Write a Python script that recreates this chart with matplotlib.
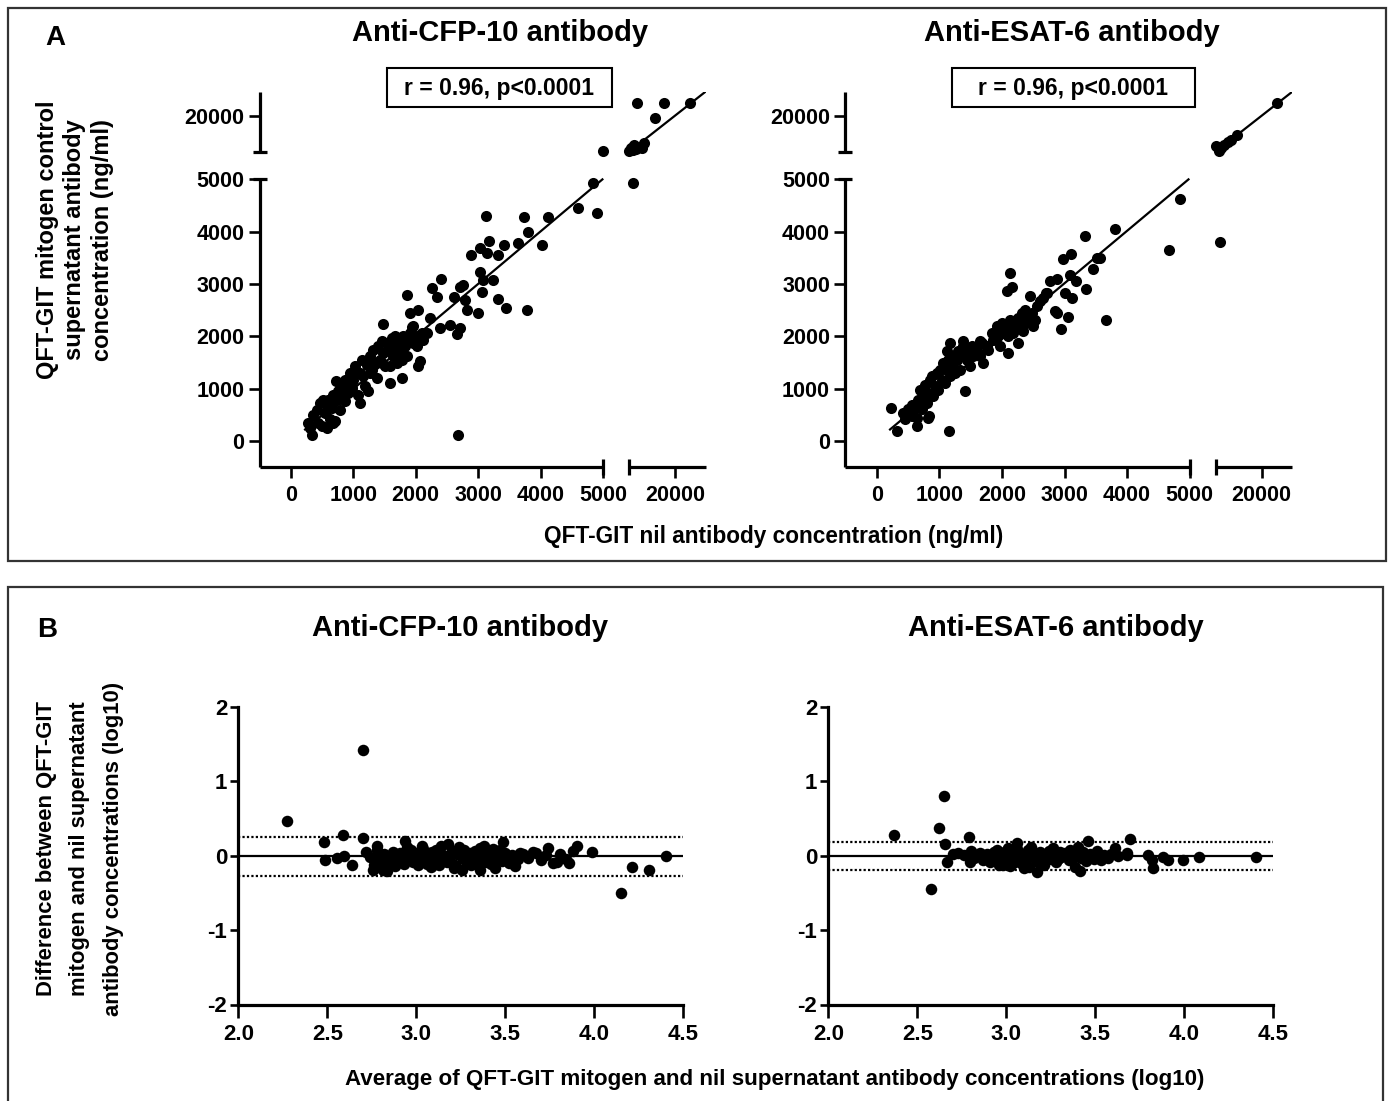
import numpy as np
import matplotlib
matplotlib.use("Agg")
import matplotlib.pyplot as plt
from matplotlib.patches import Rectangle

plt.rcParams['font.family'] = ['Liberation Sans', 'DejaVu Sans']
plt.rcParams['font.weight'] = 'bold'

W, H = 1390, 1101

# ---------------- data: panel A (ng/ml) ----------------
cfp_nil = [363, 416, 469, 496, 549, 576, 603, 629, 656, 683, 709, 736, 763, 789, 816, 843, 869, 896,
           923, 949, 976, 1003, 1029, 1056, 1083, 1109, 1136, 1163, 1189, 1216, 1243, 1269, 1296, 1323,
           1349, 1376, 1403, 1429, 1456, 1483, 1509, 1536, 1563, 1589, 1616, 1643, 1669, 1696, 1723,
           1749, 1776, 1803, 1829, 1856, 1909, 1963, 2016, 2043, 2096, 2123, 2069,
           309, 443, 576, 683, 523, 725, 869, 1109, 1269, 1456, 1589, 1669, 1776, 1856, 1963, 2016, 2176,
           2683, 336, 283, 1483, 1856, 2256, 2400, 2336, 2043, 1909, 1936, 2229, 2389, 2549, 2709, 2656,
           2709, 2613, 2789, 2816, 3003, 2880, 3029, 3083, 3056, 3029, 3179, 3147, 3323, 3413, 3243, 3323,
           3445, 3125, 3739, 3792, 3643, 4016, 4112, 3787, 4592, 4843, 4896, 2763,
           4990, 5100, 5500, 6100, 6600, 7200, 6300, 9870, 9110, 7700, 13440, 16360, 25020]
cfp_mit = [508, 603, 730, 286, 540, 667, 794, 413, 635, 889, 381, 794, 952, 603, 1048, 857, 762, 1111,
           921, 1302, 1016, 1175, 1429, 1302, 889, 730, 1556, 1238, 1048, 1460, 952, 1619, 1365, 1746,
           1492, 1206, 1810, 1556, 1905, 1683, 1429, 1873, 1746, 1111, 1968, 1619, 1810, 1492, 1937,
           1683, 1206, 2000, 1810, 1619, 2063, 1873, 2000, 1429, 2063, 1937, 1524,
           254, 349, 254, 349, 794, 1143, 1175, 1302, 1302, 1492, 1429, 2000, 1556, 1937, 2190, 1810, 2063,
           108, 108, 349, 2235, 2794, 2921, 3092, 2749, 2508, 2444, 2178, 2349, 2159, 2222, 2159, 2051,
           2952, 2762, 2698, 2508, 2444, 3556, 3238, 3079, 2857, 3683, 3829, 3587, 3556, 3746, 3079, 2717,
           2552, 4298, 4286, 4000, 3778, 3746, 4273, 2508, 4444, 4921, 4349, 2984,
           5150, 5200, 6400, 5800, 7700, 6000, 4921, 8470, 6390, 25140, 19170, 25140, 25140]

esat_nil = [452, 505, 559, 612, 638, 665, 691, 718, 745, 771, 798, 824, 824, 851, 878, 904, 931, 957,
            984, 1011, 1037, 1064, 1090, 1117, 1144, 1170, 1197, 1223, 1250, 1277, 1303, 1330, 1356, 1383,
            1436, 1463, 1489, 1516, 1543, 1596, 1649, 1676, 1702, 1755, 1782, 1835, 1862, 1915, 1941,
            1968, 1995, 2021, 2074, 2101, 2128, 2154, 2181, 2234, 2261, 2314, 2340, 2367, 2394, 2473,
            2553, 2606, 2660, 2713, 2527,
            223, 330, 426, 559, 649, 840, 1160, 1410, 1170, 1383, 1128, 1649, 2074, 2154, 2128, 2447, 2500,
            2330, 2261, 2101, 2766, 2883, 2697, 2846, 2883, 2936, 3048, 3005, 3112, 3085, 3191, 2979, 3096,
            3351, 3447, 3511, 3564, 3335, 3803, 3670, 4670, 4851,
            6413, 5050, 6090, 6630, 7720, 9020, 9890, 12070, 25110]
esat_mit = [413, 604, 476, 635, 445, 794, 985, 604, 858, 1080, 731, 921, 445, 1175, 1239, 858, 1048, 1302,
            985, 1366, 1175, 1493, 1112, 1366, 1556, 1239, 1429, 1620, 1302, 1556, 1715, 1366, 1620, 1811,
            1556, 1715, 1429, 1811, 1620, 1747, 1620, 1874, 1493, 1811, 1747, 2065, 1938, 2192, 2001,
            1811, 2255, 2065, 2192, 2001, 2319, 2160, 2065, 2192, 2351, 2446, 2192, 2509, 2319, 2446,
            2573, 2668, 2732, 2827, 2319,
            635, 191, 540, 699, 286, 476, 191, 953, 1874, 1906, 1715, 1906, 2859, 2941, 3208, 2764, 2204,
            2096, 1874, 1684, 3049, 3094, 2827, 2478, 2446, 2141, 2370, 2827, 2732, 3177, 3049, 3475, 3577,
            2903, 3284, 3494, 3494, 3920, 4047, 2306, 3653, 4619,
            3799, 7360, 5420, 6390, 7780, 9170, 9860, 11940, 25140]

# linear fits (intercept, slope, first x)
cfp_fit = (-8, 1.004, 229)
esat_fit = (9, 1.002, 213)

# ---------------- data: panel B (log10, Bland-Altman) ----------------
cfp_avg = [2.275, 2.702, 2.586, 2.483, 2.487, 2.556, 2.594, 2.637, 2.702, 4.148, 4.213, 4.307, 4.401,
           3.985, 3.901, 3.882, 3.858, 3.807, 3.770, 3.742, 3.657, 3.582, 3.554, 3.489, 2.936, 2.777,
           2.758, 2.815, 2.833, 3.255, 3.358,
           2.72, 2.74, 2.76, 2.78, 2.79, 2.80, 2.82, 2.84, 2.85, 2.87, 2.88, 2.90, 2.91, 2.93, 2.95, 2.96,
           2.98, 2.99, 3.01, 3.02, 3.04, 3.05, 3.07, 3.08, 3.10, 3.11, 3.12, 3.14, 3.15, 3.16, 3.18, 3.19,
           3.20, 3.22, 3.23, 3.24, 3.26, 3.27, 3.29, 3.30, 3.32, 3.33, 3.35, 3.36, 3.37, 3.39, 3.40, 3.42,
           3.43, 3.45, 3.46, 3.48, 3.50, 3.52, 3.54, 3.57, 3.60, 3.63, 3.67, 3.70, 3.73, 3.79, 3.84, 3.03,
           2.97, 3.13, 3.21, 3.38, 3.44,
           2.81, 2.86, 2.92, 3.00, 3.06, 3.09, 3.17, 3.25, 3.31, 3.41, 3.47, 3.53]
cfp_diff = [0.469, 1.421, 0.273, 0.179, -0.054, -0.031, -0.009, -0.121, 0.237, -0.50, -0.156, -0.188, 0.0,
            0.045, 0.125, 0.058, -0.098, 0.022, -0.098, 0.103, 0.049, 0.036, -0.143, 0.179, 0.192, 0.125,
            -0.188, -0.188, -0.21, -0.188, -0.188,
            0.05, -0.02, -0.12, 0.08, -0.05, -0.15, 0.02, -0.10, -0.03, 0.05, -0.14, -0.06, 0.03, -0.11, 0.12,
            -0.02, -0.08, 0.04, -0.13, 0.00, 0.09, -0.06, 0.03, -0.15, -0.04, 0.07, -0.10, 0.13, 0.01, -0.07,
            0.15, -0.02, 0.06, -0.12, 0.02, 0.12, -0.05, 0.08, -0.09, 0.03, -0.03, 0.06, -0.13, 0.10, -0.01,
            -0.08, 0.05, -0.11, 0.09, -0.04, 0.02, -0.07, 0.04, -0.10, 0.01, -0.05, 0.02, -0.03, 0.04, -0.06,
            0.01, -0.08, -0.04, 0.13, 0.07, -0.13, -0.16, 0.13, -0.16,
            -0.09, 0.00, -0.04, 0.02, -0.11, 0.05, -0.09, 0.03, -0.12, -0.06, 0.07, -0.02]
cfp_bias, cfp_loa = -0.01, (-0.277, 0.255)

esat_avg = [2.371, 2.652, 2.624, 2.655, 2.669, 2.575, 2.790, 2.796, 3.058, 3.461, 3.414, 3.386, 3.695,
            3.610, 3.676, 3.794, 3.826, 3.816, 3.882, 3.910, 3.994, 4.082, 4.401, 3.170,
            2.70, 2.73, 2.76, 2.80, 2.82, 2.85, 2.87, 2.89, 2.91, 2.93, 2.94, 2.96, 2.97, 2.99, 3.00, 3.02,
            3.03, 3.05, 3.06, 3.08, 3.09, 3.11, 3.12, 3.13, 3.15, 3.16, 3.18, 3.19, 3.21, 3.22, 3.24, 3.25,
            3.27, 3.28, 3.30, 3.31, 3.33, 3.35, 3.36, 3.38, 3.40, 3.42, 3.43, 3.45, 3.47, 3.49, 3.51, 3.53,
            3.55, 3.57, 3.59, 3.63, 3.68, 2.95, 3.01, 3.14, 3.26, 3.10, 3.04, 2.98,
            2.92, 3.07, 3.20, 3.29, 3.37, 3.44, 3.52]
esat_diff = [0.279, 0.796, 0.369, 0.153, -0.09, -0.449, 0.247, -0.09, 0.175, 0.198, -0.202, -0.148, 0.220,
             0.108, 0.009, 0.009, -0.171, -0.058, -0.013, -0.058, -0.058, -0.022, -0.013, -0.216,
             0.02, 0.04, 0.01, 0.06, -0.03, 0.04, -0.06, 0.02, -0.09, 0.05, -0.02, -0.12, 0.03, -0.07, 0.06,
             -0.14, 0.01, -0.04, 0.09, -0.10, 0.02, -0.06, 0.07, -0.15, -0.02, 0.04, -0.09, 0.05, -0.12, 0.00,
             0.06, -0.05, 0.03, -0.08, 0.05, -0.02, 0.04, -0.06, 0.08, 0.01, 0.12, -0.03, 0.05, -0.07, 0.02,
             -0.04, 0.06, -0.06, 0.01, -0.03, 0.02, -0.01, 0.03, 0.08, 0.10, 0.11, 0.10, -0.17, -0.10, -0.13,
             -0.05, -0.03, -0.02, -0.04, -0.05, 0.00, -0.02]
esat_bias, esat_loa = 0.0, (-0.193, 0.189)

titles = ["Anti-CFP-10 antibody", "Anti-ESAT-6 antibody"]
stat_text = "r = 0.96, p<0.0001"
a_xticks = [0, 1000, 2000, 3000, 4000, 5000, 20000]
a_yticks = [0, 1000, 2000, 3000, 4000, 5000, 20000]
b_xticks = [2.0, 2.5, 3.0, 3.5, 4.0, 4.5]
b_yticks = [-2, -1, 0, 1, 2]

BRK, TOP = 5000, 30000


def broken(gap, k):
    def fwd(v):
        v = np.asarray(v, float)
        return np.where(v <= BRK, v, BRK + gap + (v - BRK) * k)

    def inv(t):
        t = np.asarray(t, float)
        return np.where(t <= BRK, t, np.where(t <= BRK + gap, BRK, BRK + (t - BRK - gap) / k))
    return fwd, inv


def add_ax(fig, l, r, t, b):
    return fig.add_axes([l / W, 1 - b / H, (r - l) / W, (b - t) / H])


fig = plt.figure(figsize=(W / 100, H / 100), dpi=100)

# frames
for (x0, y0, x1, y1) in [(8, 8, 1386, 561), (8, 587, 1383, 1120)]:
    fig.add_artist(Rectangle((x0 / W, 1 - y1 / H), (x1 - x0) / W, (y1 - y0) / H,
                             transform=fig.transFigure, fill=False, lw=1.6, ec='#333333'))

SP = 2.3
# ---------------- panel A ----------------
a_boxes = [(259.5, 705.7), (845.4, 1292.4)]
a_data = [(cfp_nil, cfp_mit, cfp_fit), (esat_nil, esat_mit, esat_fit)]
for (l, r), (xs, ys, fit) in zip(a_boxes, a_data):
    ax = add_ax(fig, l, r, 91.8, 467.3)
    ax.set_xscale('function', functions=broken(415, 0.049))
    ax.set_yscale('function', functions=broken(527, 0.0458))
    ax.set_xlim(-500, TOP)
    ax.set_ylim(-500, TOP)
    for s in ['top', 'right']:
        ax.spines[s].set_visible(False)
    for s in ['left', 'bottom']:
        ax.spines[s].set_linewidth(SP)
        ax.spines[s].set_capstyle('butt')
    ax.spines['bottom'].set_bounds(-500, BRK)
    ax.spines['left'].set_bounds(-500, BRK)
    # upper segments of the broken axes
    ax.plot([BRK + 1, TOP], [0, 0], color='k', lw=SP, transform=ax.get_xaxis_transform(),
            clip_on=False, solid_capstyle='butt')
    ax.plot([0, 0], [BRK + 1, TOP], color='k', lw=SP, transform=ax.get_yaxis_transform(),
            clip_on=False, solid_capstyle='butt')
    # break marks
    ax.plot([BRK, BRK + 1], [0, 0], ls='none', marker='|', ms=11, mew=SP, color='k',
            transform=ax.get_xaxis_transform(), clip_on=False)
    ax.plot([0, 0], [BRK, BRK + 1], ls='none', marker='_', ms=10, mew=SP, color='k',
            transform=ax.get_yaxis_transform(), clip_on=False)
    ax.set_xticks(a_xticks)
    ax.set_xticklabels([str(v) for v in a_xticks])
    ax.set_yticks(a_yticks)
    ax.set_yticklabels([str(v) for v in a_yticks])
    ax.tick_params(axis='both', width=1.9, length=8, labelsize=15.5, color='k')
    ax.tick_params(axis='x', pad=5)
    ax.tick_params(axis='y', pad=3)
    for lab in ax.get_xticklabels() + ax.get_yticklabels():
        lab.set_fontweight('bold')
    a0, b0, x0 = fit
    xm = [x0, (BRK - a0) / b0 - 1]
    ax.plot(xm, [a0 + b0 * v for v in xm], color='k', lw=1.6, zorder=2)
    xu = [BRK + 1, (TOP - a0) / b0]
    ax.plot(xu, [a0 + b0 * v for v in xu], color='k', lw=1.6, zorder=2)
    ax.scatter(xs, ys, s=8 ** 2, color='k', zorder=3, linewidths=0, clip_on=False)

# titles, stats boxes
for cx, t in zip([500, 1072], titles):
    fig.text(cx / W, 1 - 33 / H, t, ha='center', va='center', fontsize=21, fontweight='bold')
for (x0, x1) in [(387, 612), (952, 1195)]:
    fig.add_artist(Rectangle((x0 / W, 1 - 107 / H), (x1 - x0) / W, 39 / H,
                             transform=fig.transFigure, fill=False, lw=1.5, ec='k'))
    fig.text((x0 + x1) / 2 / W, 1 - 88 / H, stat_text, ha='center', va='center',
             fontsize=16.5, fontweight='bold')

fig.text(55 / W, 1 - 38 / H, "A", ha='center', va='center', fontsize=20, fontweight='bold')
fig.text(75 / W, 1 - 240 / H,
         "QFT-GIT mitogen control\nsupernatant antibody\nconcentration (ng/ml)",
         rotation=90, ha='center', va='center', ma='center', fontsize=17,
         fontweight='bold', linespacing=1.25)
fig.text(774 / W, 1 - 536 / H, "QFT-GIT nil antibody concentration (ng/ml)",
         ha='center', va='center', fontsize=16.3, fontweight='bold')

# ---------------- panel B ----------------
b_boxes = [(238.3, 683.3), (828.3, 1273.3)]
b_data = [(cfp_avg, cfp_diff, cfp_bias, cfp_loa), (esat_avg, esat_diff, esat_bias, esat_loa)]
for (l, r), (xs, ys, bias, loa) in zip(b_boxes, b_data):
    ax = add_ax(fig, l, r, 706.7, 1004.5)
    ax.set_xlim(2.0, 4.5)
    ax.set_ylim(-2, 2)
    for s in ['top', 'right']:
        ax.spines[s].set_visible(False)
    for s in ['left', 'bottom']:
        ax.spines[s].set_linewidth(SP)
    ax.set_xticks(b_xticks)
    ax.set_xticklabels([f"{v:.1f}" for v in b_xticks])
    ax.set_yticks(b_yticks)
    ax.set_yticklabels([str(v) for v in b_yticks])
    ax.tick_params(axis='x', width=1.9, length=9, labelsize=16, pad=5)
    ax.tick_params(axis='y', width=1.9, length=6, labelsize=16, pad=2)
    for lab in ax.get_xticklabels() + ax.get_yticklabels():
        lab.set_fontweight('bold')
    ax.axhline(bias, color='k', lw=1.6, zorder=2)
    for v in loa:
        ax.axhline(v, color='k', lw=1.6, ls=(0, (1, 1)), zorder=2)
    ax.scatter(xs, ys, s=8.3 ** 2, color='k', zorder=3, linewidths=0)

for cx, t in zip([460, 1056], titles):
    fig.text(cx / W, 1 - 628 / H, t, ha='center', va='center', fontsize=21, fontweight='bold')
fig.text(47 / W, 1 - 630 / H, "B", ha='center', va='center', fontsize=20, fontweight='bold')
fig.text(80 / W, 1 - 849 / H,
         "Difference between QFT-GIT\nmitogen and nil supernatant\nantibody concentrations (log10)",
         rotation=90, ha='center', va='center', ma='center', fontsize=15.8,
         fontweight='bold', linespacing=1.75)
fig.text(775 / W, 1 - 1080 / H,
         "Average of QFT-GIT mitogen and nil supernatant antibody concentrations (log10)",
         ha='center', va='center', fontsize=16.1, fontweight='bold')

fig.savefig("out.png", dpi=100)
